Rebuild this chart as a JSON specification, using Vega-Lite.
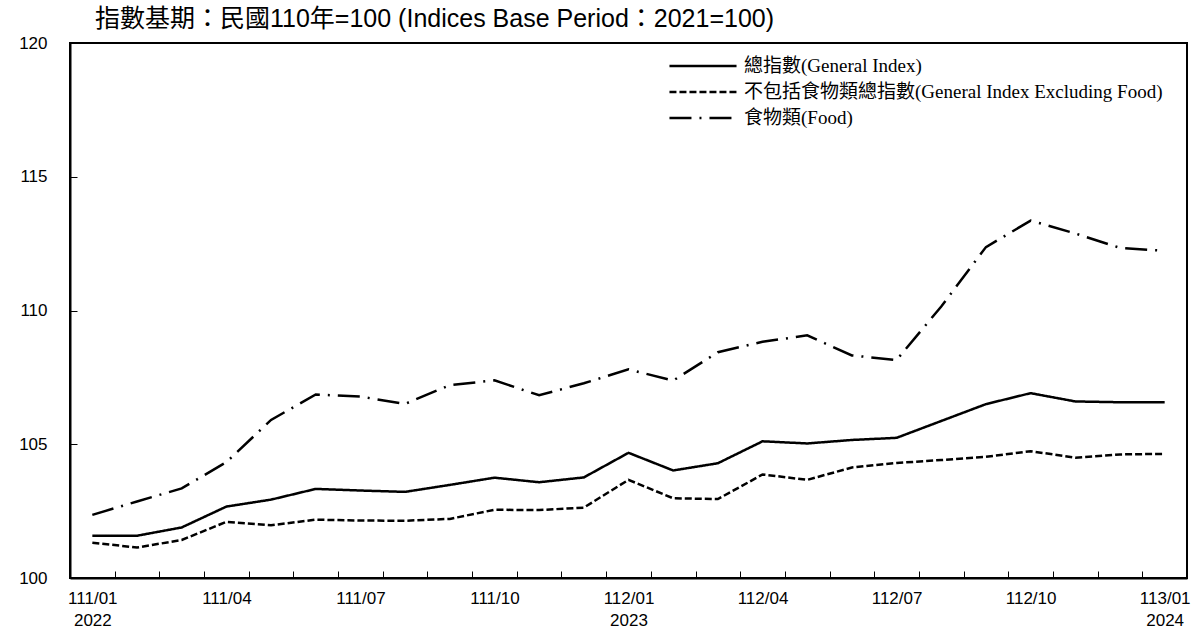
{
  "$schema": "https://vega.github.io/schema/vega-lite/v6.json",
  "width": 1117,
  "height": 535,
  "autosize": {"type": "none"},
  "padding": {"left": 70, "top": 43, "right": 15, "bottom": 65},
  "background": "white",
  "title": {
    "text": "指數基期：民國110年=100 (Indices Base Period：2021=100)",
    "anchor": "start",
    "frame": "group",
    "dx": 25,
    "offset": -18,
    "baseline": "alphabetic",
    "font": "Liberation Sans, Noto Sans CJK TC",
    "fontSize": 25,
    "fontWeight": "normal",
    "color": "black"
  },
  "config": {
    "view": {"stroke": "black", "strokeWidth": 2},
    "font": "Liberation Sans"
  },
  "data": {
    "values": [
      {"m": "111/01", "gen": 101.58, "exf": 101.32, "food": 102.36},
      {"m": "111/02", "gen": 101.58, "exf": 101.14, "food": 102.86},
      {"m": "111/03", "gen": 101.89, "exf": 101.42, "food": 103.35},
      {"m": "111/04", "gen": 102.67, "exf": 102.10, "food": 104.33},
      {"m": "111/05", "gen": 102.93, "exf": 101.97, "food": 105.91},
      {"m": "111/06", "gen": 103.33, "exf": 102.18, "food": 106.86},
      {"m": "111/07", "gen": 103.27, "exf": 102.15, "food": 106.78},
      {"m": "111/08", "gen": 103.22, "exf": 102.14, "food": 106.51},
      {"m": "111/09", "gen": 103.48, "exf": 102.21, "food": 107.21},
      {"m": "111/10", "gen": 103.75, "exf": 102.55, "food": 107.39},
      {"m": "111/11", "gen": 103.58, "exf": 102.54, "food": 106.83},
      {"m": "111/12", "gen": 103.76, "exf": 102.63, "food": 107.28},
      {"m": "112/01", "gen": 104.68, "exf": 103.67, "food": 107.80},
      {"m": "112/02", "gen": 104.02, "exf": 102.98, "food": 107.38},
      {"m": "112/03", "gen": 104.29, "exf": 102.95, "food": 108.44},
      {"m": "112/04", "gen": 105.11, "exf": 103.87, "food": 108.83},
      {"m": "112/05", "gen": 105.03, "exf": 103.67, "food": 109.07},
      {"m": "112/06", "gen": 105.16, "exf": 104.13, "food": 108.32},
      {"m": "112/07", "gen": 105.24, "exf": 104.30, "food": 108.15},
      {"m": "112/08", "gen": 105.87, "exf": 104.41, "food": 110.15},
      {"m": "112/09", "gen": 106.50, "exf": 104.53, "food": 112.37},
      {"m": "112/10", "gen": 106.91, "exf": 104.74, "food": 113.36},
      {"m": "112/11", "gen": 106.60, "exf": 104.50, "food": 112.88},
      {"m": "112/12", "gen": 106.57, "exf": 104.62, "food": 112.34},
      {"m": "113/01", "gen": 106.57, "exf": 104.64, "food": 112.23}
    ]
  },
  "transform": [{"fold": ["gen", "exf", "food"], "as": ["s", "v"]}],
  "mark": {"type": "line", "strokeWidth": 2.5, "color": "black"},
  "encoding": {
    "x": {
      "field": "m",
      "type": "ordinal",
      "scale": {"type": "point", "padding": 0.5},
      "axis": {
        "orient": "bottom",
        "title": null,
        "tickOffset": 22.34,
        "labelOffset": -22.34,
        "tickSize": -7,
        "tickColor": "black",
        "tickWidth": 1,
        "domainColor": "black",
        "domainWidth": 2,
        "labelPadding": 19,
        "labelFont": "Liberation Sans",
        "labelFontSize": 17,
        "labelColor": "black",
        "labelAngle": 0,
        "labelOverlap": false,
        "labelBaseline": "top",
        "labelLineHeight": 22,
        "labelExpr": "indexof(['01','04','07','10'], slice(datum.value,4)) < 0 ? '' : (slice(datum.value,4) == '01' ? [datum.value, toString(toNumber(slice(datum.value,0,3)) + 1911)] : datum.value)"
      }
    },
    "y": {
      "field": "v",
      "type": "quantitative",
      "scale": {"domain": [100, 120], "nice": false, "zero": false},
      "axis": {
        "title": null,
        "values": [100, 105, 110, 115, 120],
        "grid": false,
        "tickSize": -7,
        "tickColor": "black",
        "tickWidth": 1,
        "domainColor": "black",
        "domainWidth": 2,
        "labelPadding": 30,
        "labelFont": "Liberation Sans",
        "labelFontSize": 17,
        "labelColor": "black"
      }
    },
    "strokeDash": {
      "field": "s",
      "type": "nominal",
      "scale": {"domain": ["gen", "exf", "food"], "range": [[1, 0], [7, 3], [22, 8, 2, 8]]},
      "legend": {
        "title": null,
        "orient": "none",
        "legendX": 622,
        "legendY": 12,
        "padding": 0,
        "symbolType": "M-3.53,0H3.53",
        "symbolSize": 361,
        "symbolStrokeWidth": 2.5,
        "symbolStrokeColor": "black",
        "symbolFillColor": "transparent",
        "labelFont": "Liberation Serif, Noto Sans CJK TC",
        "labelFontSize": 19,
        "labelColor": "black",
        "labelOffset": 30,
        "rowPadding": 5,
        "labelLimit": 700,
        "labelExpr": "datum.value == 'gen' ? '總指數(General Index)' : datum.value == 'exf' ? '不包括食物類總指數(General Index Excluding Food)' : '食物類(Food)'"
      }
    }
  }
}
